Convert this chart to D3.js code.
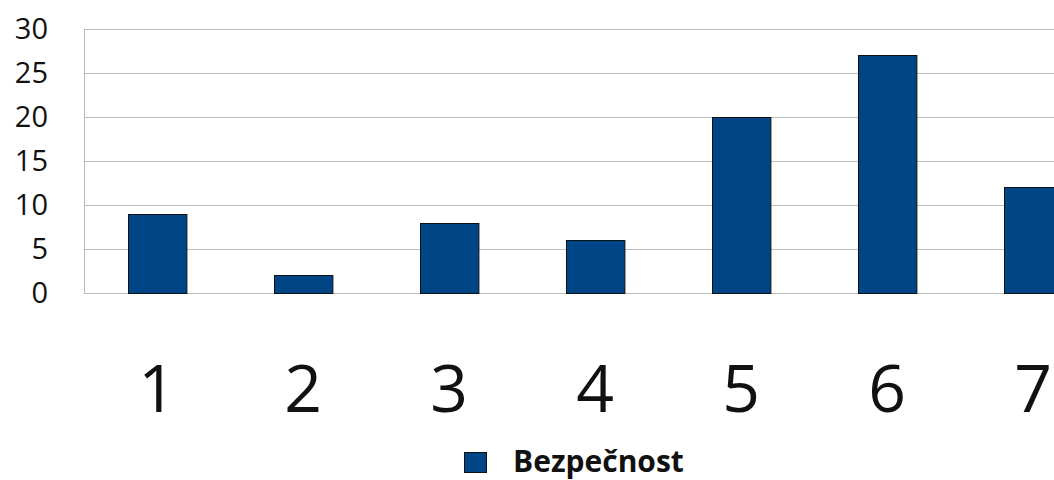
<!DOCTYPE html>
<html lang="cs">
<head>
    <meta charset="UTF-8">
    <title>Bezpečnost</title>
    <style>
        body {
            margin: 0;
            padding: 0;
            overflow: hidden;
            background-color: #ffffff;
        }

        svg {
            display: block;
        }
    </style>
</head>
<body>
    <script src="https://d3js.org/d3.v7.min.js"></script>
    <script>
        const categories = ['1', '2', '3', '4', '5', '6', '7'];
        const values = [9, 2, 8, 6, 20, 27, 12];
        const yTicks = [0, 5, 10, 15, 20, 25, 30];
        const seriesName = 'Bezpečnost';

        const width = 1054;
        const height = 480;
        const plotLeft = 84;
        const plotTop = 29;
        const plotBottom = 293;
        const bandStep = 146;

        const svg = d3.select('body')
            .append('svg')
            .attr('width', width)
            .attr('height', height);

        const x = d3.scaleBand()
            .domain(categories)
            .range([plotLeft, plotLeft + bandStep * categories.length])
            .paddingInner(0.6)
            .paddingOuter(0.3);

        const y = d3.scaleLinear()
            .domain([0, 30])
            .range([plotBottom, plotTop]);

        // grid lines
        svg.append('g')
            .selectAll('line')
            .data(yTicks)
            .enter()
            .append('line')
            .attr('x1', plotLeft)
            .attr('x2', width)
            .attr('y1', d => Math.round(y(d)) + 0.5)
            .attr('y2', d => Math.round(y(d)) + 0.5)
            .attr('stroke', '#bcbcbc')
            .attr('stroke-width', 1);

        // left axis line
        svg.append('line')
            .attr('x1', plotLeft + 0.5)
            .attr('x2', plotLeft + 0.5)
            .attr('y1', Math.round(y(30)))
            .attr('y2', Math.round(y(0)) + 1)
            .attr('stroke', '#bcbcbc')
            .attr('stroke-width', 1);

        // y tick labels
        svg.append('g')
            .selectAll('text')
            .data(yTicks)
            .enter()
            .append('text')
            .attr('x', 48)
            .attr('y', d => y(d))
            .attr('dy', '0.35em')
            .attr('text-anchor', 'end')
            .attr('font-family', '"Open Sans", sans-serif')
            .attr('font-size', 29)
            .attr('fill', '#111')
            .text(d => d);

        // bars
        svg.append('g')
            .selectAll('rect')
            .data(values)
            .enter()
            .append('rect')
            .attr('x', (d, i) => Math.round(x(categories[i])) + 0.5)
            .attr('y', d => Math.round(y(d)) + 0.5)
            .attr('width', x.bandwidth())
            .attr('height', d => Math.round(y(0)) - Math.round(y(d)))
            .attr('fill', '#004586')
            .attr('stroke', '#111')
            .attr('stroke-width', 1);

        // x labels
        svg.append('g')
            .selectAll('text')
            .data(categories)
            .enter()
            .append('text')
            .attr('x', d => x(d) + x.bandwidth() / 2)
            .attr('y', 412)
            .attr('text-anchor', 'middle')
            .attr('font-family', '"Open Sans", sans-serif')
            .attr('font-size', 66)
            .attr('fill', '#111')
            .text(d => d);

        // legend
        const legend = svg.append('g');
        legend.append('rect')
            .attr('x', 464.5)
            .attr('y', 452.5)
            .attr('width', 22)
            .attr('height', 20)
            .attr('fill', '#004586')
            .attr('stroke', '#111');
        legend.append('text')
            .attr('x', 513)
            .attr('y', 472)
            .attr('font-family', '"Open Sans", sans-serif')
            .attr('font-weight', 'bold')
            .attr('font-size', 30)
            .attr('fill', '#111')
            .text(seriesName);
    </script>
</body>
</html>
